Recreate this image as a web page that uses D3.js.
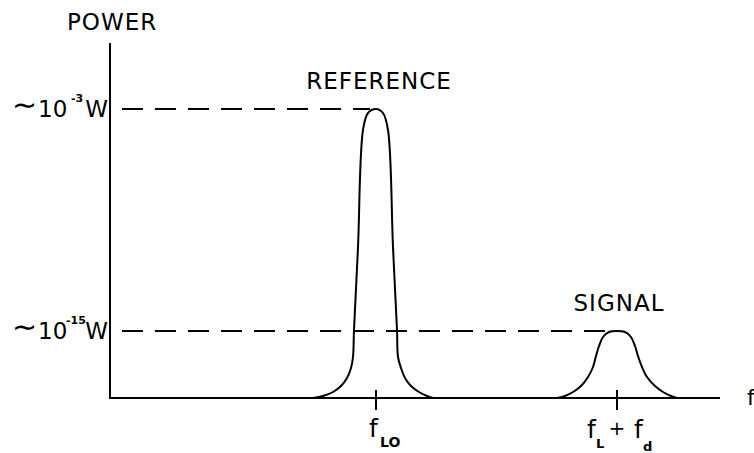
<!DOCTYPE html>
<html>
<head>
<meta charset="utf-8">
<script src="https://cdn.jsdelivr.net/npm/d3@7"></script>
<style>
  html, body { margin: 0; padding: 0; background: #fff; }
  svg { display: block; }
  text { font-family: "DejaVu Sans", sans-serif; fill: #000; }
</style>
</head>
<body>
<script>
// ---- data (arbitrary frequency / power units) ----
const yLevels = [57.8, 13.4];             // ~10^-3 W, ~10^-15 W
const yExponents = ["-3", "-15"];
const peakCenters = [53.2, 101.4];        // f_LO, f_L + f_d
const peakNames = ["REFERENCE", "SIGNAL"];
const referencePeak = [
  [40.6, 0], [42.6, 0.4], [44.6, 1.2], [46.2, 2.4], [47.4, 4.0], [48.2, 6.0],
  [48.6, 8.2], [48.8, 13.6], [49.6, 30.2], [50.6, 53.6], [51.6, 57.0],
  [53.2, 57.8], [54.6, 57.0], [55.6, 53.6], [56.6, 30.2], [57.4, 13.6],
  [57.6, 8.2], [58.2, 6.0], [59.0, 4.0], [60.2, 2.4], [61.8, 1.2],
  [63.4, 0.4], [64.6, 0]
];
const signalPeak = [
  [89.4, 0], [91.0, 0.4], [92.6, 1.2], [94.2, 2.4], [95.6, 4.2], [96.6, 6.2],
  [97.2, 8.4], [97.8, 10.4], [98.6, 12.2], [99.8, 13.2], [101.4, 13.4],
  [103.0, 13.2], [104.2, 12.2], [105.0, 10.4], [105.6, 8.4], [106.4, 6.2],
  [107.4, 4.2], [109.0, 2.4], [110.6, 1.2], [112.2, 0.4], [113.4, 0]
];
const xMax = 122, yMax = 71;

// ---- drawing ----
const W = 754, H = 453;
const svg = d3.select("body").append("svg").attr("width", W).attr("height", H);
svg.append("rect").attr("width", W).attr("height", H).attr("fill", "#fff");

const x = d3.scaleLinear().domain([0, 122]).range([110, 720]);
const y = d3.scaleLinear().domain([0, 58]).range([398, 108]);

const ink = "#000";
const sw = 2;

// axes
svg.append("line").attr("x1", x(0)).attr("x2", x(0)).attr("y1", y(0) + 1).attr("y2", y(yMax))
  .attr("stroke", ink).attr("stroke-width", sw);
svg.append("line").attr("x1", x(0)).attr("x2", x(xMax)).attr("y1", y(0)).attr("y2", y(0))
  .attr("stroke", ink).attr("stroke-width", sw);

// dashed level lines
yLevels.forEach((v, i) => {
  svg.append("line")
    .attr("x1", x(0)).attr("x2", x(peakCenters[i]) - 6)
    .attr("y1", y(v)).attr("y2", y(v))
    .attr("stroke", ink).attr("stroke-width", sw)
    .attr("stroke-dasharray", "21,12").attr("stroke-dashoffset", 21);
});

// peaks
const line = d3.line().x(d => x(d[0])).y(d => y(d[1])).curve(d3.curveCatmullRom.alpha(0.5));
[referencePeak, signalPeak].forEach(p => {
  svg.append("path").attr("d", line(p)).attr("fill", "none")
    .attr("stroke", ink).attr("stroke-width", sw).attr("stroke-linejoin", "round");
});

// x tick marks
peakCenters.forEach(c => {
  svg.append("line").attr("x1", x(c)).attr("x2", x(c))
    .attr("y1", y(0) - 8).attr("y2", y(0) + 12)
    .attr("stroke", ink).attr("stroke-width", sw);
});

// y tick labels
yLevels.forEach((v, i) => {
  const by = y(v) + 8;
  svg.append("text").attr("x", 12).attr("y", by - 2).attr("font-size", 30).text("∼");
  svg.append("text").attr("x", 38).attr("y", by).attr("font-size", 23).text("10");
  svg.append("text").attr("x", i === 0 ? 71 : 66).attr("y", by - 15)
    .attr("font-size", 11).attr("font-weight", "bold").text(yExponents[i]);
  svg.append("text").attr("x", 108).attr("y", by).attr("text-anchor", "end")
    .attr("font-size", 23).text("W");
});

// axis titles
svg.append("text").attr("x", 67).attr("y", 30).attr("font-size", 23)
  .attr("letter-spacing", 1).text("POWER");
svg.append("text").attr("x", 747).attr("y", 405).attr("font-size", 22).text("f");

// peak names
svg.append("text").attr("x", x(peakCenters[0]) + 3).attr("y", y(yLevels[0]) - 20)
  .attr("text-anchor", "middle").attr("font-size", 23).attr("letter-spacing", 1)
  .text(peakNames[0]);
svg.append("text").attr("x", x(peakCenters[1]) + 2).attr("y", y(yLevels[1]) - 20)
  .attr("text-anchor", "middle").attr("font-size", 23).attr("letter-spacing", 1)
  .text(peakNames[1]);

// x tick labels
const c0 = x(peakCenters[0]);
svg.append("text").attr("x", c0 - 7).attr("y", 437).attr("font-size", 25).text("f");
svg.append("text").attr("x", c0 + 4).attr("y", 447).attr("font-size", 14)
  .attr("font-weight", "bold").text("LO");

const c1 = x(peakCenters[1]);
svg.append("text").attr("x", c1 - 30).attr("y", 438).attr("font-size", 25).text("f");
svg.append("text").attr("x", c1 - 21).attr("y", 448).attr("font-size", 13)
  .attr("font-weight", "bold").text("L");
svg.append("text").attr("x", c1).attr("y", 435).attr("text-anchor", "middle")
  .attr("font-size", 20).text("+");
svg.append("text").attr("x", c1 + 17).attr("y", 438).attr("font-size", 25).text("f");
svg.append("text").attr("x", c1 + 26).attr("y", 451).attr("font-size", 13)
  .attr("font-weight", "bold").text("d");
</script>
</body>
</html>
